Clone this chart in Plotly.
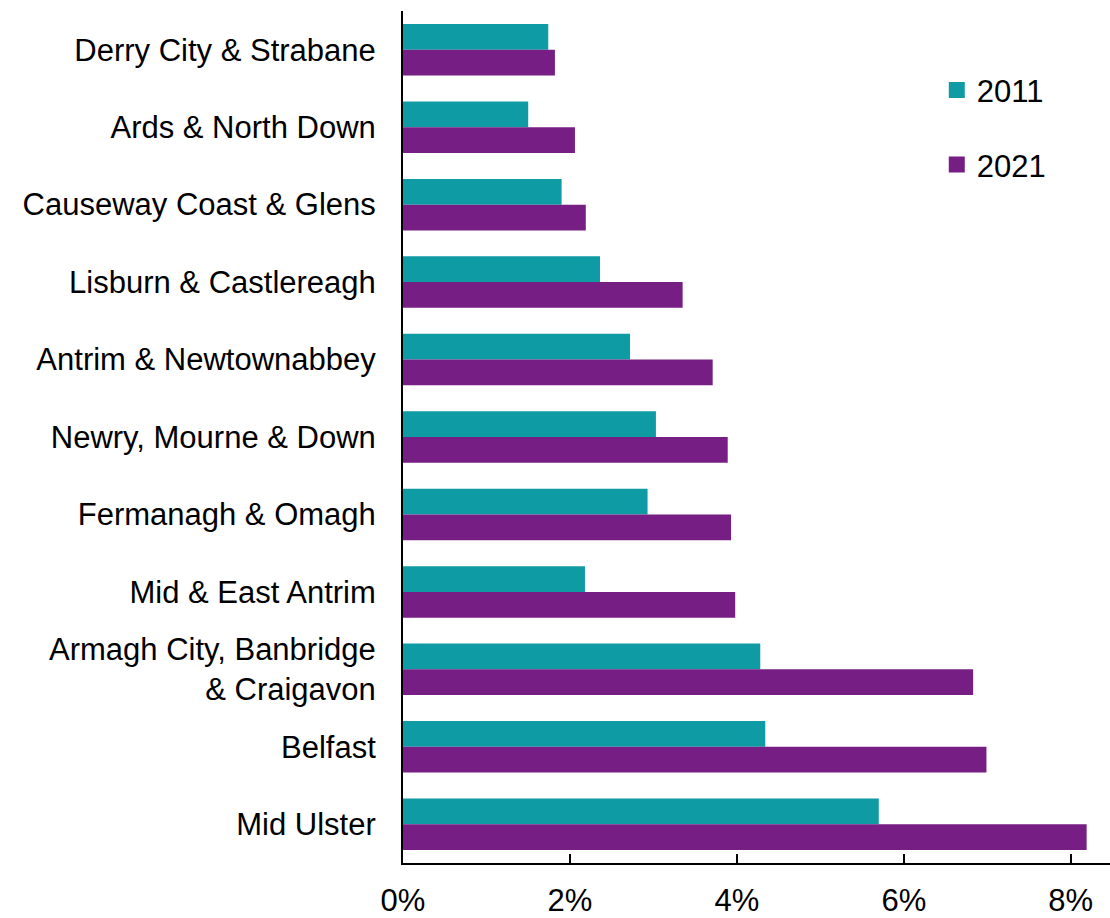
import plotly.graph_objects as go

categories = [
    "Derry City & Strabane",
    "Ards & North Down",
    "Causeway Coast & Glens",
    "Lisburn & Castlereagh",
    "Antrim & Newtownabbey",
    "Newry, Mourne & Down",
    "Fermanagh & Omagh",
    "Mid & East Antrim",
    "Armagh City, Banbridge<br>& Craigavon",
    "Belfast",
    "Mid Ulster",
]
values_2011 = [1.74, 1.50, 1.90, 2.36, 2.72, 3.03, 2.93, 2.18, 4.28, 4.34, 5.70]
values_2021 = [1.82, 2.06, 2.19, 3.35, 3.71, 3.89, 3.93, 3.98, 6.83, 6.99, 8.19]
tick_vals = [0, 2, 4, 6, 8]
tick_text = ["0%", "2%", "4%", "6%", "8%"]

TEAL = "#0F9BA4"
PURPLE = "#771E84"
FONT = "Liberation Sans, Arial, sans-serif"

fig = go.Figure()
fig.add_trace(go.Bar(y=categories, x=values_2011, orientation="h", name="2011",
                     marker=dict(color=TEAL, line=dict(width=0)), showlegend=False))
fig.add_trace(go.Bar(y=categories, x=values_2021, orientation="h", name="2021",
                     marker=dict(color=PURPLE, line=dict(width=0)), showlegend=False))
# legend entries (square markers)
fig.add_trace(go.Scatter(x=[None], y=[None], mode="markers", name="2011",
                         marker=dict(symbol="square", size=16, color=TEAL),
                         legend="legend", showlegend=True))
fig.add_trace(go.Scatter(x=[None], y=[None], mode="markers", name="2021",
                         marker=dict(symbol="square", size=16, color=PURPLE),
                         legend="legend2", showlegend=True))

fig.update_layout(
    width=1110, height=918,
    margin=dict(l=403, r=0, t=11, b=55),
    paper_bgcolor="white", plot_bgcolor="white",
    font=dict(family=FONT, size=31, color="black"),
    barmode="group", bargap=0.335, bargroupgap=0,
    legend=dict(x=0.755, y=0.907, xanchor="left", yanchor="middle",
                font=dict(size=31), itemsizing="trace", bgcolor="rgba(0,0,0,0)"),
    legend2=dict(x=0.755, y=0.8195, xanchor="left", yanchor="middle",
                 font=dict(size=31), itemsizing="trace", bgcolor="rgba(0,0,0,0)"),
    xaxis=dict(range=[0, 8.47], tickvals=tick_vals, ticktext=tick_text,
               showline=True, linecolor="black", linewidth=2,
               ticks="inside", ticklen=9, tickwidth=2, tickcolor="black",
               showgrid=False, zeroline=False, ticklabelstandoff=9),
    yaxis=dict(categoryorder="array", categoryarray=categories, autorange="reversed",
               showline=True, linecolor="black", linewidth=2,
               ticks="", showgrid=False, zeroline=False, ticklabelstandoff=19),
)

fig.write_html("out.html")
